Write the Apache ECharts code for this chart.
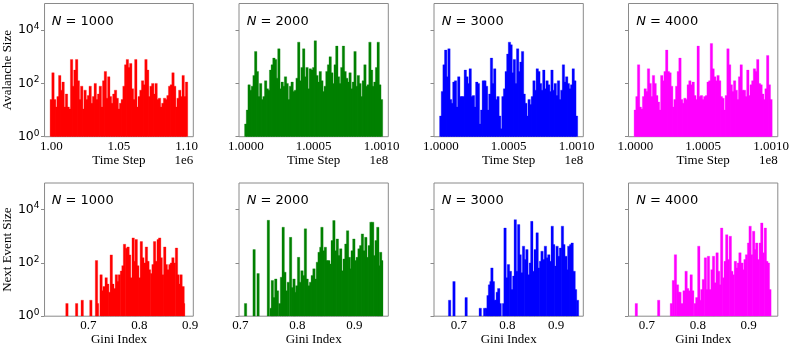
<!DOCTYPE html>
<html><head><meta charset="utf-8">
<script src="https://cdn.jsdelivr.net/npm/echarts@6/dist/echarts.min.js"></script>
<style>html,body{margin:0;padding:0;background:#fff}#c{width:793px;height:350px}</style>
</head><body><div id="c"></div>
<script>
// ---------------- data ----------------
const panelN = ['1000', '2000', '3000', '4000'];
const colors = ['#ff0000', '#008000', '#0000ff', '#ff00ff'];
const timeStart = [1.0e6, 1.0e8, 1.0e8, 1.0e8];
const timeEnd = [1.1e6, 1.001e8, 1.001e8, 1.001e8];
const timeTicks = [[1.00e6, 1.05e6, 1.10e6], [1.0e8, 1.0005e8, 1.001e8], [1.0e8, 1.0005e8, 1.001e8], [1.0e8, 1.0005e8, 1.001e8]];
const timeTickScale = [1e6, 1e8, 1e8, 1e8];
const timeTickDigits = [2, 4, 4, 4];
const timeOffsetText = ['1e6', '1e8', '1e8', '1e8'];
const giniLimits = [[0.614, 0.906], [0.6975, 0.9594], [0.6489, 0.9559], [0.6636, 0.9575]];
const giniTicks = [0.7, 0.8, 0.9];
const sizeTicks = [1, 100, 10000];

const avalanche1000 = [25,251,25,13,32,200,56,112,13,40,13,11,794,79,316,794,126,25,79,11,56,25,35,79,18,32,100,25,40,79,13,126,282,28,178,32,18,40,56,28,11,18,25,79,501,794,398,562,63,25,794,13,32,56,126,89,794,316,32,79,100,40,100,25,28,13,18,28,25,35,79,89,251,79,13,28,56,32,200,32,112];
const avalanche2000 = [3,10,89,56,79,200,1585,282,32,100,25,32,126,63,56,316,501,891,794,158,1995,63,112,79,178,100,25,79,112,50,56,158,3548,126,398,1995,178,398,63,355,316,398,3981,200,112,282,126,50,79,282,501,1000,251,100,501,2512,178,100,398,2512,282,158,112,251,63,112,1585,79,200,100,32,126,501,79,89,3548,316,79,112,398,3548,89,25];
const avalanche3000 = [6,50,501,1778,178,1995,25,18,112,126,13,178,32,32,32,316,178,100,355,32,35,13,112,100,3,10,126,126,79,10,40,891,100,355,25,32,6,2,32,63,282,1259,3548,2818,251,794,100,1995,282,631,1585,40,18,6,25,16,32,126,56,355,282,100,56,316,63,126,89,50,316,56,100,35,126,25,56,501,112,178,100,63,89,355,126,6];
const avalanche4000 = [10,32,501,13,11,32,63,50,355,100,32,200,100,35,20,10,200,126,282,1778,282,251,79,13,25,79,282,891,25,18,28,25,89,126,89,112,35,25,2512,32,35,25,32,35,112,126,3162,355,178,126,200,126,32,28,10,35,1995,501,89,50,126,56,25,178,501,56,56,32,316,35,89,126,355,282,794,100,89,40,25,63,1122,89,25];

const nextEvent1000 = [[0.658,3],[0.677,3],[0.688,4],[0.705,4],[0.716,123],[0.718,3],[0.725,36],[0.728,9],[0.731,13],[0.735,28],[0.738,16],[0.742,8],[0.745,200],[0.748,16],[0.752,11],[0.755,36],[0.758,20],[0.761,36],[0.765,50],[0.768,79],[0.771,501],[0.775,355],[0.778,398],[0.781,200],[0.784,28],[0.788,871],[0.791,115],[0.794,759],[0.797,79],[0.801,28],[0.804,631],[0.807,158],[0.811,100],[0.814,398],[0.817,115],[0.820,56],[0.824,40],[0.827,87],[0.830,631],[0.833,115],[0.837,759],[0.840,871],[0.843,158],[0.846,36],[0.850,398],[0.853,87],[0.856,56],[0.860,87],[0.863,100],[0.866,158],[0.869,100],[0.873,363],[0.876,36],[0.879,16],[0.882,36],[0.886,13],[0.887,3]];
const nextEvent2000 = [[0.709,3],[0.724,316],[0.731,40],[0.749,3981],[0.754,2],[0.756,22],[0.759,5],[0.762,25],[0.765,9],[0.769,3],[0.772,29],[0.775,2188],[0.778,45],[0.781,9],[0.784,19],[0.788,912],[0.791,12],[0.794,25],[0.796,8],[0.799,14],[0.802,162],[0.805,19],[0.808,51],[0.811,34],[0.814,1905],[0.817,25],[0.820,14],[0.823,19],[0.826,34],[0.829,60],[0.832,25],[0.835,107],[0.838,251],[0.841,389],[0.843,2188],[0.846,288],[0.849,389],[0.852,123],[0.855,123],[0.858,91],[0.861,692],[0.864,3890],[0.867,288],[0.870,794],[0.873,191],[0.876,339],[0.879,51],[0.882,141],[0.885,513],[0.888,1622],[0.891,162],[0.893,60],[0.896,288],[0.899,794],[0.902,123],[0.905,162],[0.908,339],[0.911,447],[0.914,1230],[0.917,288],[0.920,912],[0.923,162],[0.926,447],[0.929,3388],[0.932,3388],[0.935,191],[0.938,692],[0.941,2188],[0.943,79],[0.946,251],[0.948,123]];
const nextEvent3000 = [[0.681,4],[0.690,20],[0.715,5],[0.744,2],[0.753,2],[0.757,2],[0.760,6],[0.763,15],[0.766,20],[0.768,65],[0.771,20],[0.774,4],[0.777,4],[0.779,8],[0.782,11],[0.785,3],[0.792,3],[0.795,2042],[0.799,28],[0.802,87],[0.806,49],[0.809,10],[0.813,32],[0.816,4217],[0.819,49],[0.823,2754],[0.826,204],[0.830,43],[0.833,427],[0.837,135],[0.840,316],[0.844,36],[0.847,100],[0.850,3631],[0.854,49],[0.857,316],[0.861,1349],[0.864,65],[0.868,115],[0.871,275],[0.875,135],[0.878,427],[0.882,155],[0.885,204],[0.888,115],[0.892,2399],[0.895,490],[0.899,76],[0.902,427],[0.906,178],[0.909,363],[0.913,2399],[0.916,490],[0.920,178],[0.923,56],[0.926,427],[0.930,490],[0.933,562],[0.937,49],[0.940,10],[0.944,4]];
const nextEvent4000 = [[0.679,3],[0.723,4],[0.748,3],[0.752,22],[0.756,204],[0.760,15],[0.762,8],[0.765,8],[0.769,3],[0.773,9],[0.777,49],[0.780,11],[0.783,9],[0.787,36],[0.790,9],[0.795,3],[0.798,5],[0.802,427],[0.805,4],[0.808,10],[0.811,24],[0.815,155],[0.818,10],[0.821,178],[0.824,10],[0.828,56],[0.831,178],[0.834,18],[0.838,240],[0.841,49],[0.844,15],[0.847,2042],[0.851,28],[0.854,115],[0.857,1148],[0.860,135],[0.864,1000],[0.867,49],[0.870,36],[0.874,115],[0.877,65],[0.880,100],[0.883,240],[0.887,100],[0.890,56],[0.893,135],[0.896,204],[0.900,562],[0.903,2399],[0.906,204],[0.910,1549],[0.913,316],[0.916,562],[0.919,135],[0.923,562],[0.926,3162],[0.929,240],[0.933,2042],[0.936,115],[0.939,100],[0.942,10]];

const avalancheSeries = [avalanche1000, avalanche2000, avalanche3000, avalanche4000];
const nextEventSeries = [nextEvent1000, nextEvent2000, nextEvent3000, nextEvent4000];

// ---------------- layout ----------------
const gridLefts = [44, 239, 434, 628.5];
const gridW = 149.3;
const rowTops = [3.5, 183];
const gridH = 133.2;
const SERIF = '"Liberation Serif","Times New Roman",serif';
const SANS = '"DejaVu Sans",sans-serif';
const borderColor = '#8a8a8a';
const BAR_W = 2.4;

const grids = [], xAxes = [], yAxes = [], series = [], graphics = [];

function yAxisFor(idx, col, row) {
  return {
    type: 'log', logBase: 10, min: 1, max: 100000, gridIndex: idx,
    axisLine: { show: false },
    splitLine: { show: false },
    minorTick: { show: false },
    axisTick: { show: true, customValues: sizeTicks, length: 3.5, lineStyle: { color: borderColor, width: 1 } },
    axisLabel: {
      show: col === 0, customValues: sizeTicks, margin: 5,
      formatter: v => '{b|10}{s|' + Math.round(Math.log10(v)) + '}',
      rich: {
        b: { fontFamily: SANS, fontSize: 12.5, color: '#000', lineHeight: 16, verticalAlign: 'middle' },
        s: { fontFamily: SANS, fontSize: 9, color: '#000', lineHeight: 16, verticalAlign: 'top' }
      }
    },
    name: col === 0 ? (row === 0 ? 'Avalanche Size' : 'Next Event Size') : '',
    nameLocation: 'middle', nameGap: 30,
    nameTextStyle: { fontFamily: SERIF, fontSize: 13, color: '#000' }
  };
}

function barRenderer(color) {
  return function (params, api) {
    const x = api.value(0), y = api.value(1);
    const top = api.coord([x, y]);
    const base = api.coord([x, 1]);
    return {
      type: 'rect',
      shape: { x: top[0] - BAR_W / 2, y: top[1], width: BAR_W, height: base[1] - top[1] },
      style: { fill: color, stroke: color, lineWidth: 0.3, opacity: 1 }
    };
  };
}

for (let row = 0; row < 2; row++) {
  for (let col = 0; col < 4; col++) {
    const idx = row * 4 + col;
    grids.push({ left: gridLefts[col], top: rowTops[row], width: gridW, height: gridH,
      show: true, borderColor: borderColor, borderWidth: 1, backgroundColor: 'transparent' });
    let xmin, xmax, ticks, fmt, name, gap;
    if (row === 0) {
      const r = timeEnd[col] - timeStart[col];
      xmin = timeStart[col] - 0.05 * r; xmax = timeEnd[col] + 0.05 * r;
      ticks = timeTicks[col];
      const sc = timeTickScale[col], dg = timeTickDigits[col];
      fmt = v => (v / sc).toFixed(dg);
      name = 'Time Step'; gap = 17;
    } else {
      xmin = giniLimits[col][0]; xmax = giniLimits[col][1];
      ticks = giniTicks; fmt = v => v.toFixed(1);
      name = 'Gini Index'; gap = 16;
    }
    xAxes.push({
      type: 'value', gridIndex: idx, min: xmin, max: xmax,
      axisLine: { show: false }, splitLine: { show: false },
      axisTick: { show: false },
      axisLabel: { customValues: ticks, formatter: fmt, fontFamily: SERIF, fontSize: 13, color: '#000', margin: 3 },
      name: name, nameLocation: 'middle', nameGap: gap,
      nameTextStyle: { fontFamily: SERIF, fontSize: 13, color: '#000' }
    });
    yAxes.push(yAxisFor(idx, col, row));

    let data;
    if (row === 0) {
      const vals = avalancheSeries[col];
      const n = vals.length;
      const step = (timeEnd[col] - timeStart[col]) / (n - 1);
      data = vals.map((v, i) => [timeStart[col] + i * step, v]);
    } else {
      data = nextEventSeries[col];
    }
    series.push({
      type: 'custom', xAxisIndex: idx, yAxisIndex: idx, data: data,
      encode: { x: 0, y: 1 }, clip: true,
      itemStyle: { color: colors[col], borderWidth: 0 },
      renderItem: barRenderer(colors[col]),
      animation: false, silent: true
    });

    graphics.push({
      type: 'text', x: gridLefts[col] + 7.7, y: rowTops[row] + 17.8,
      style: { text: '{i|N} = ' + panelN[col], font: '13px ' + SANS, fill: '#000',
        verticalAlign: 'middle', align: 'left',
        rich: { i: { fontStyle: 'italic', fontFamily: SANS, fontSize: 13, fill: '#000' } } }
    });
    if (row === 0) {
      graphics.push({
        type: 'text', x: gridLefts[col] + gridW, y: rowTops[row] + gridH + 24,
        style: { text: timeOffsetText[col], font: '13px ' + SERIF, fill: '#000', align: 'right', verticalAlign: 'middle' }
      });
    }
  }
}

const chart = echarts.init(document.getElementById('c'), null, { renderer: 'canvas' });
chart.setOption({
  backgroundColor: '#ffffff',
  animation: false,
  grid: grids, xAxis: xAxes, yAxis: yAxes, series: series, graphic: graphics
});
</script></body></html>
